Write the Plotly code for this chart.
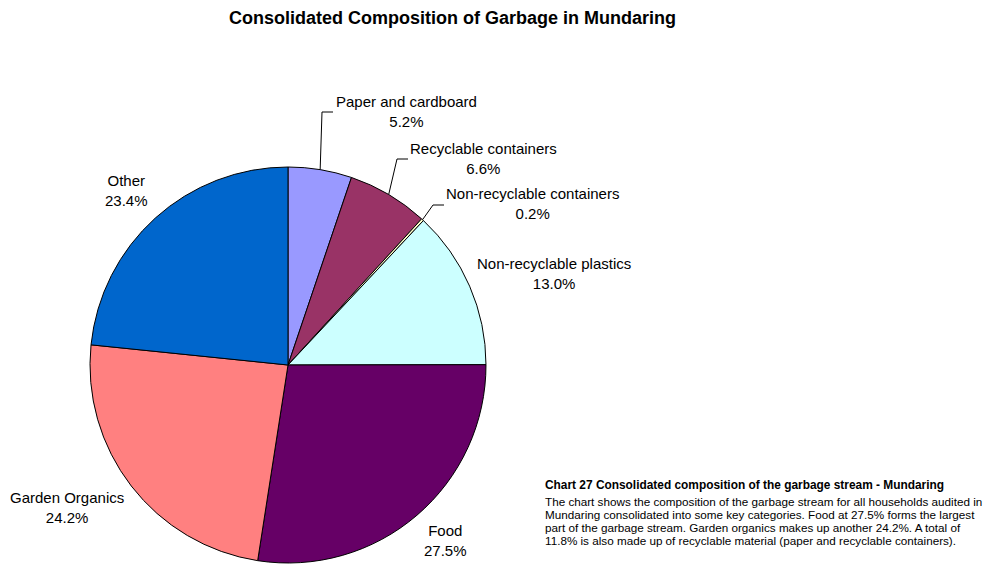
import math
import plotly.graph_objects as go

# Garbage composition categories, listed clockwise from 12 o'clock
categories = [
    "Paper and cardboard",
    "Recyclable containers",
    "Non-recyclable containers",
    "Non-recyclable plastics",
    "Food",
    "Garden Organics",
    "Other",
]
shares = [5.2, 6.6, 0.2, 13.0, 27.5, 24.2, 23.4]
colors = ["#9999FF", "#993366", "#FFFFCC", "#CCFFFF", "#660066", "#FF8080", "#0066CC"]

caption_title = "Chart 27 Consolidated composition of the garbage stream - Mundaring"
caption_lines = [
    "The chart shows the composition of the garbage stream for all households audited in",
    "Mundaring consolidated into some key categories. Food at 27.5% forms the largest",
    "part of the garbage stream. Garden organics makes up another 24.2%. A total of",
    "11.8% is also made up of recyclable material (paper and recyclable containers).",
]

W, H = 988, 565
CX, CY, R = 288, 365, 198  # pie centre and radius in pixels
FONT = "Liberation Sans, Arial, sans-serif"

# Label centres (pixel coords); leader lines run to the given left text edge
label_pos = [(406, 111), (483, 158), (532, 204), (554, 273), (445, 540), (67, 507), (127, 190)]
leader_left = [336, 411, 447, None, None, None, None]


def px(x):
    return x / W


def py(y):
    return 1 - y / H


fig = go.Figure()
fig.add_trace(go.Pie(
    labels=categories,
    values=shares,
    sort=False,
    direction="clockwise",
    rotation=0,
    marker=dict(colors=colors, line=dict(color="#000000", width=1)),
    textinfo="none",
    hoverinfo="label+percent",
    showlegend=False,
    domain=dict(x=[px(CX - R), px(CX + R)], y=[py(CY + R), py(CY - R)]),
))

annotations = []
shapes = []
total = sum(shares)
cum = 0.0
for name, val, (lx, ly), left in zip(categories, shares, label_pos, leader_left):
    mid = (cum + val / 2) / total * 2 * math.pi
    cum += val
    annotations.append(dict(
        x=px(lx), y=py(ly), xref="paper", yref="paper",
        text=f"{name}<br>{val:.1f}%", showarrow=False,
        xanchor="center", yanchor="middle",
        font=dict(family=FONT, size=15, color="#000000"),
    ))
    if left is not None:
        # leader from the slice rim to an elbow beside the label, then across
        sx = CX + R * math.sin(mid)
        sy = CY - R * math.cos(mid)
        ey = ly + 1
        path = (f"M {px(sx)},{py(sy)} L {px(left - 14)},{py(ey)} "
                f"L {px(left - 3)},{py(ey)}")
        shapes.append(dict(type="path", xref="paper", yref="paper", path=path,
                           line=dict(color="#000000", width=1)))

annotations.append(dict(
    x=px(452), y=py(18), xref="paper", yref="paper",
    text="<b>Consolidated Composition of Garbage in Mundaring</b>", showarrow=False,
    xanchor="center", yanchor="middle",
    font=dict(family=FONT, size=18, color="#000000"),
))
annotations.append(dict(
    x=px(543), y=py(485), xref="paper", yref="paper",
    text=f"<b>{caption_title}</b>",
    showarrow=False, xanchor="left", yanchor="middle", align="left",
    font=dict(family=FONT, size=11.9, color="#000000"),
))
for i, line in enumerate(caption_lines):
    annotations.append(dict(
        x=px(543), y=py(501 + 13 * i), xref="paper", yref="paper",
        text=line, showarrow=False, xanchor="left", yanchor="middle", align="left",
        font=dict(family=FONT, size=11.7, color="#000000"),
    ))

fig.update_layout(
    width=W, height=H,
    margin=dict(l=0, r=0, t=0, b=0),
    paper_bgcolor="#FFFFFF",
    plot_bgcolor="#FFFFFF",
    annotations=annotations,
    shapes=shapes,
)

fig.write_html("out.html")
